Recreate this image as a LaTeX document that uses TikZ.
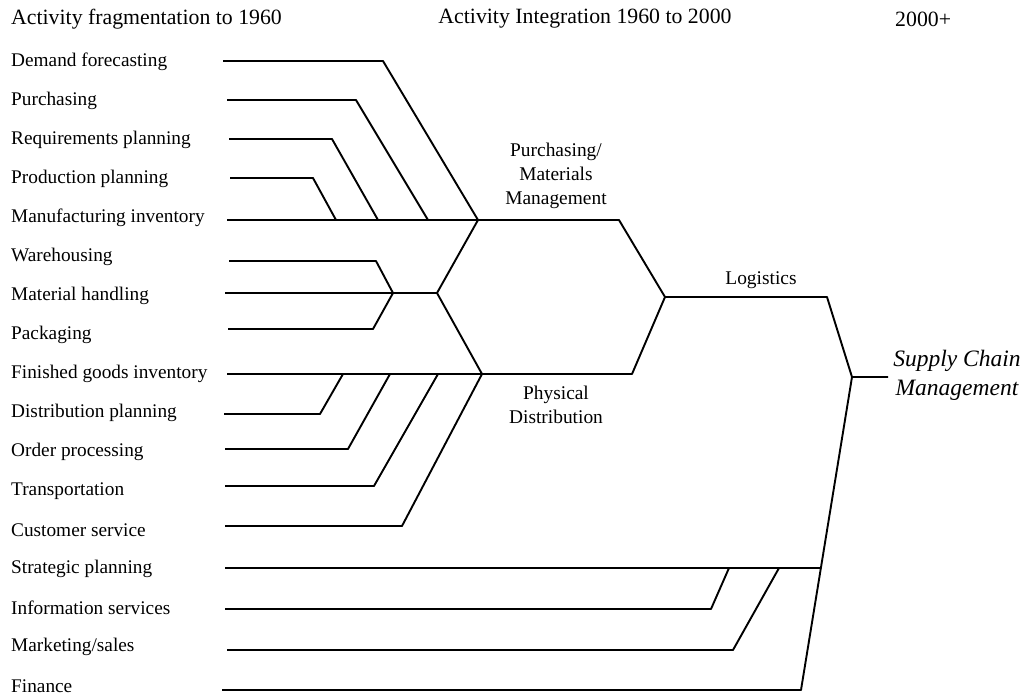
\documentclass[tikz,border=0pt]{standalone}
\usepackage{fontspec}
\setmainfont{Liberation Serif}
\tikzset{
  activity/.style={anchor=west, inner sep=0pt, font=\fontsize{19.3}{22}\selectfont},
  stage/.style={align=center, inner sep=0pt, font=\fontsize{19.4}{24}\selectfont},
  heading/.style={anchor=west, inner sep=0pt, font=\fontsize{21.8}{24}\selectfont},
  link/.style={line width=1.9pt, line join=round},
}
\begin{document}
\begin{tikzpicture}[x=1pt,y=-1pt]
  \useasboundingbox (0,0) rectangle (1025,696);
  % periods
  \node[heading] (h1) at (11,19) {Activity fragmentation to 1960};
  \node[heading, anchor=center] (h2) at (585,19) {Activity Integration 1960 to 2000};
  \node[heading] (h3) at (895,19) {2000+};
  % activities
  \foreach \i/\txt in {1/Demand forecasting, 2/Purchasing, 3/Requirements planning,
      4/Production planning, 5/Manufacturing inventory, 6/Warehousing,
      7/Material handling, 8/Packaging, 9/Finished goods inventory,
      10/Distribution planning, 11/Order processing, 12/Transportation,
      13/Customer service, 14/Strategic planning, 15/Information services,
      16/{Marketing/sales}, 17/Finance}
    \node[activity] (a\i) at (11,{62+39.0*(\i-1)}) {\txt};
  % line starts
  \foreach \i/\x/\y in {1/223/61, 2/227/100, 3/229/139, 4/230/178, 5/227/220,
      6/229/261, 7/225/293, 8/228/329, 9/227/374, 10/224/414, 11/225/449,
      12/225/486, 13/225/526, 14/225/568, 15/225/609, 16/227/650, 17/222/690}
    \coordinate (s\i) at (\x,\y);
  % junctions
  \coordinate (pm) at (478,220);
  \coordinate (mh) at (437,293);
  \coordinate (pd) at (482,374);
  \coordinate (lg) at (665,297);
  \coordinate (scm) at (852,377);
  \coordinate (e) at (888,377);
  % purchasing / materials management
  \draw[link] (s1) -- (383,61) -- (pm);
  \draw[link] (s2) -- (356,100) -- (428,220);
  \draw[link] (s3) -- (332,139) -- (378,220);
  \draw[link] (s4) -- (313,178) -- (336,220);
  \draw[link] (s5) -- (pm) -- (619,220) -- (lg);
  % middle group
  \draw[link] (s6) -- (376,261) -- (393,293);
  \draw[link] (s8) -- (373,329) -- (393,293);
  \draw[link] (s7) -- (mh);
  \draw[link] (pm) -- (mh) -- (pd);
  % physical distribution
  \draw[link] (s9) -- (pd) -- (632,374) -- (lg);
  \draw[link] (s10) -- (320,414) -- (343,374);
  \draw[link] (s11) -- (348,449) -- (390,374);
  \draw[link] (s12) -- (374,486) -- (438,374);
  \draw[link] (s13) -- (402,526) -- (pd);
  % logistics and supply chain
  \draw[link] (lg) -- (827,297) -- (scm) -- (e);
  \draw[link] (s14) -- (821,568);
  \draw[link] (s15) -- (711,609) -- (729,568);
  \draw[link] (s16) -- (733,650) -- (779,568);
  \draw[link] (s17) -- (801,690) -- (scm);
  % stage labels
  \node[stage] (pml) at (556,176) {Purchasing/\\Materials\\Management};
  \node[stage] (pdl) at (556,405) {Physical\\Distribution};
  \node[stage] (lgl) at (761,280) {Logistics};
  \node[stage, font=\fontsize{23.5}{29}\selectfont\itshape] (scml) at (957,375) {Supply Chain\\Management};
\end{tikzpicture}
\end{document}
